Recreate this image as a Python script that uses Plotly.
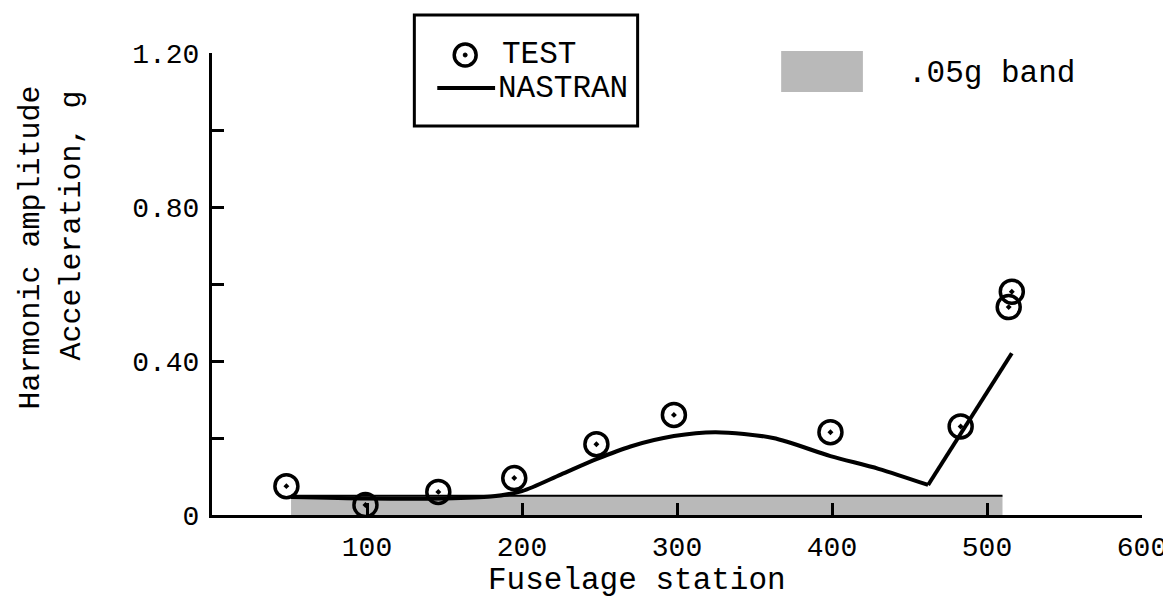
import plotly.graph_objects as go

# ---- data ----
test_station = [48, 99, 146, 195, 248, 298, 399, 483, 514, 516]
test_accel = [0.075, 0.026, 0.060, 0.096, 0.184, 0.260, 0.215, 0.230, 0.540, 0.580]

nastran_station = [51, 100, 150, 180, 200, 225, 248, 270, 298, 325, 362, 399, 430, 462]
nastran_accel = [0.047, 0.043, 0.043, 0.048, 0.062, 0.105, 0.145, 0.178, 0.205, 0.215, 0.200, 0.153, 0.120, 0.078]
nastran_tail_station = [462, 516]
nastran_tail_accel = [0.078, 0.420]

band_station = [51, 510]
band_level = [0.05, 0.05]

x_tickvals = [0, 100, 200, 300, 400, 500, 600]
x_ticktext = ["", "100", "200", "300", "400", "500", "600"]
y_tickvals = [0, 0.2, 0.4, 0.6, 0.8, 1.0, 1.2]
y_ticktext = ["0", "", "0.40", "", "0.80", "", "1.20"]

# ---- layout geometry ----
W, H = 1171, 599
L, R, T, B = 204, 34, 45, 92
PW, PH = W - L - R, H - T - B
FONT = "Courier New, Liberation Mono, monospace"
BAND_GRAY = "#b9b9b9"


def px(xp):
    return (xp - L) / PW


def py(yp):
    return (H - B - yp) / PH


fig = go.Figure()

fig.add_trace(go.Scatter(
    x=band_station, y=band_level, mode="lines", fill="tozeroy",
    fillcolor=BAND_GRAY, line=dict(color="black", width=2),
    showlegend=False, hoverinfo="skip"))

fig.add_trace(go.Scatter(
    x=nastran_station, y=nastran_accel, mode="lines",
    line=dict(color="black", width=4, shape="spline", smoothing=0.8),
    showlegend=False))
fig.add_trace(go.Scatter(
    x=nastran_tail_station, y=nastran_tail_accel, mode="lines",
    line=dict(color="black", width=4), showlegend=False))

fig.add_trace(go.Scatter(
    x=test_station, y=test_accel, mode="markers",
    marker=dict(symbol="circle-open-dot", size=23, color="black",
                line=dict(width=3.5, color="black")),
    showlegend=False))

shapes = [
    # legend box
    dict(type="rect", xref="paper", yref="paper",
         x0=px(407), x1=px(631), y0=py(118), y1=py(7),
         line=dict(color="black", width=3)),
    # TEST symbol
    dict(type="circle", xref="paper", yref="paper",
         x0=px(447), x1=px(469), y0=py(58), y1=py(36),
         line=dict(color="black", width=3.5)),
    dict(type="circle", xref="paper", yref="paper",
         x0=px(456), x1=px(460), y0=py(49), y1=py(45),
         fillcolor="black", line=dict(color="black", width=1)),
    # NASTRAN line key
    dict(type="line", xref="paper", yref="paper",
         x0=px(430), x1=px(488), y0=py(80), y1=py(80),
         line=dict(color="black", width=4)),
    # band key
    dict(type="rect", xref="paper", yref="paper",
         x0=px(775), x1=px(857), y0=py(84), y1=py(43),
         fillcolor=BAND_GRAY, line=dict(width=0)),
]

annotations = [
    dict(text="TEST", xref="paper", yref="paper", x=px(493), y=py(47),
         xanchor="left", yanchor="middle", showarrow=False,
         font=dict(family=FONT, size=31, color="black")),
    dict(text="NASTRAN", xref="paper", yref="paper", x=px(489), y=py(80),
         xanchor="left", yanchor="middle", showarrow=False,
         font=dict(family=FONT, size=31, color="black")),
    dict(text=".05g band", xref="paper", yref="paper", x=px(900), y=py(66),
         xanchor="left", yanchor="middle", showarrow=False,
         font=dict(family=FONT, size=31, color="black")),
    dict(text="Fuselage station", xref="paper", yref="paper", x=px(630), y=py(572),
         xanchor="center", yanchor="middle", showarrow=False,
         font=dict(family=FONT, size=31, color="black")),
    dict(text="Harmonic amplitude", xref="paper", yref="paper", x=px(22), y=py(240),
         xanchor="center", yanchor="middle", showarrow=False, textangle=-90,
         font=dict(family=FONT, size=30, color="black")),
    dict(text="Acceleration, g", xref="paper", yref="paper", x=px(64), y=py(217),
         xanchor="center", yanchor="middle", showarrow=False, textangle=-90,
         font=dict(family=FONT, size=30, color="black")),
]

fig.update_layout(
    width=W, height=H,
    margin=dict(l=L, r=R, t=T, b=B, pad=0),
    paper_bgcolor="white", plot_bgcolor="white",
    showlegend=False,
    shapes=shapes, annotations=annotations,
    font=dict(family=FONT, size=29, color="black"),
)

fig.update_xaxes(
    range=[0, 600], tickvals=x_tickvals, ticktext=x_ticktext,
    showline=True, linecolor="black", linewidth=3,
    ticks="inside", ticklen=12, tickwidth=3, tickcolor="black",
    showgrid=False, zeroline=False, ticklabelstandoff=4,
    tickfont=dict(family=FONT, size=28, color="black"))
fig.update_yaxes(
    range=[0, 1.2], tickvals=y_tickvals, ticktext=y_ticktext,
    showline=True, linecolor="black", linewidth=3,
    ticks="inside", ticklen=12, tickwidth=3, tickcolor="black",
    showgrid=False, zeroline=False, ticklabelstandoff=4,
    tickfont=dict(family=FONT, size=28, color="black"))

fig.write_html("out.html")
